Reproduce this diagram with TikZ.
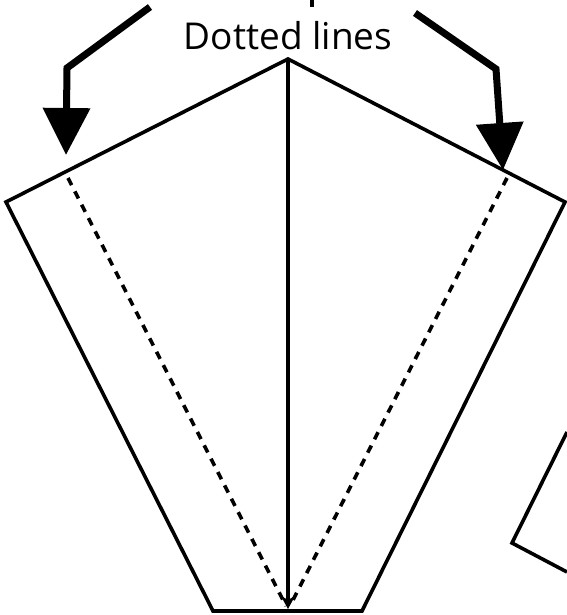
\documentclass[tikz,border=0pt]{standalone}
\usepackage{fontspec}
\setmainfont{Open Sans}
\usetikzlibrary{arrows.meta}

\begin{document}
\begin{tikzpicture}[x=1pt, y=-1pt,
    fold/.style={line width=3.6pt, line join=miter},
    crease/.style={line width=3.6pt, dash pattern=on 8pt off 7pt},
    pointer/.style={line width=7pt, -{Triangle[width=46pt,length=47pt]}}]
        \useasboundingbox (0,0) rectangle (566,615);

        % corners of the sheet
        \coordinate (p_apex) at (288,59);
        \coordinate (p_left) at (6,202);
        \coordinate (p_right) at (565,202);
        \coordinate (p_botl) at (213,611);
        \coordinate (p_botr) at (362,611);
        \coordinate (p_mid) at (288,609);

        \node[anchor=base, font=\fontsize{37pt}{42pt}\selectfont] (label) at (288,50) {Dotted lines};

        \draw[fold] (p_apex) -- (p_left) -- (p_botl) -- (p_botr) -- (p_right) -- cycle;
        \draw[fold, -{Stealth[length=13pt,width=14pt,inset=4pt]}] (p_apex) -- (p_mid);

        % creases
        \coordinate (c_l) at (68,178);
        \coordinate (c_r) at (507,178);
        \draw[crease] (c_l) -- (286,606);
        \draw[crease] (c_r) -- (290,606);

        % pointers to the creases
        \coordinate (a_l0) at (150,7);
        \coordinate (a_l1) at (67,68);
        \coordinate (a_r0) at (415,13);
        \coordinate (a_r1) at (496,69);
        \draw[pointer] (a_l0) -- (a_l1) -- (66,155);
        \draw[pointer] (a_r0) -- (a_r1) -- (503,170);

        % pieces cut off at the edges
        \draw[line width=3.6pt] (312,0) -- (312,7);
        \draw[fold] (567,432) -- (512,543) -- (567,572);
      \end{tikzpicture}
\end{document}
